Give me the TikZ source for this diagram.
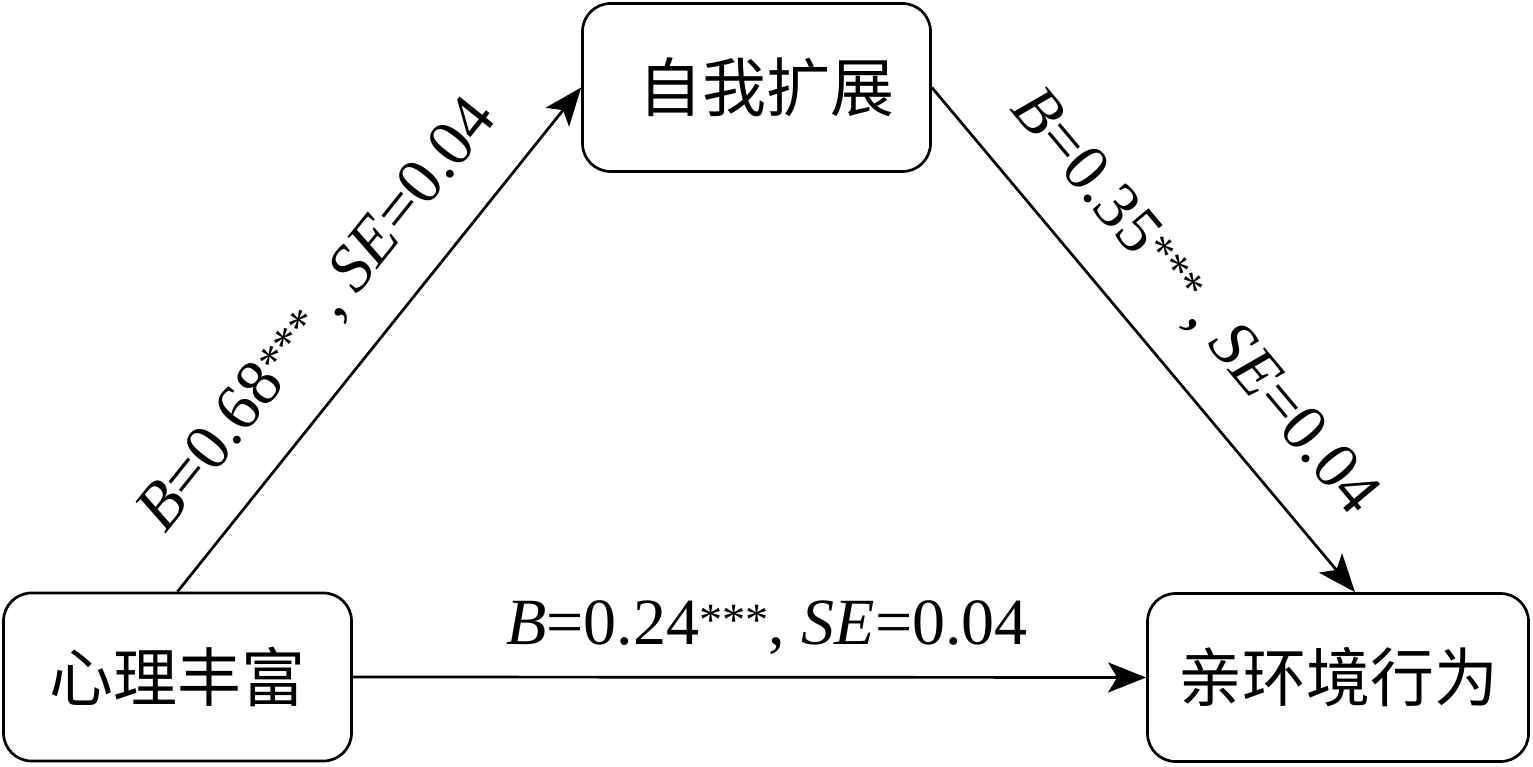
\documentclass[tikz,border=0pt]{standalone}
\usepackage{fontspec}
\setmainfont{Liberation Serif}
\newfontfamily\cjk{Noto Sans CJK SC}
\usetikzlibrary{arrows.meta}
\begin{document}
\begin{tikzpicture}[x=1pt,y=1pt,
  box/.style={draw, line width=2.7pt, rounded corners=28pt, minimum width=348pt,
    minimum height=168pt, inner sep=0pt, font=\cjk\fontsize{64}{64}\selectfont},
  arr/.style={line width=2.7pt, -{Stealth[length=38pt,width=30pt,inset=9pt]}},
  lbl/.style={font=\fontsize{66}{66}\selectfont, inner sep=0pt}]
\useasboundingbox (0,0) rectangle (1533,767);
\node[box] (lb) at (177.5,90) {心理丰富};
\node[box] (tb) at (756.5,679.5) {\hspace*{20pt}自我扩展};
\node[box, minimum width=381pt] (rb) at (1338,89.5) {亲环境行为};
\coordinate (rbin) at ([xshift=17pt]rb.north);
\draw[arr] (lb.north) -- node[lbl, sloped, pos=0.47, above=45pt, anchor=base] (l1)
  {\textit{B}=0.68\textsuperscript{***}\,, \textit{SE}=0.04} (tb.west);
\draw[arr] (tb.east) -- node[lbl, sloped, pos=0.506, above=45pt, anchor=base] (l2)
  {\textit{B}=0.35\textsuperscript{***}\,, \textit{SE}=0.04} (rbin);
\draw[arr] (lb.east) -- node[lbl, pos=0.522, above=33pt, anchor=base] (l3)
  {\textit{B}=0.24\textsuperscript{***}, \textit{SE}=0.04} (rb.west);
\end{tikzpicture}
\end{document}
